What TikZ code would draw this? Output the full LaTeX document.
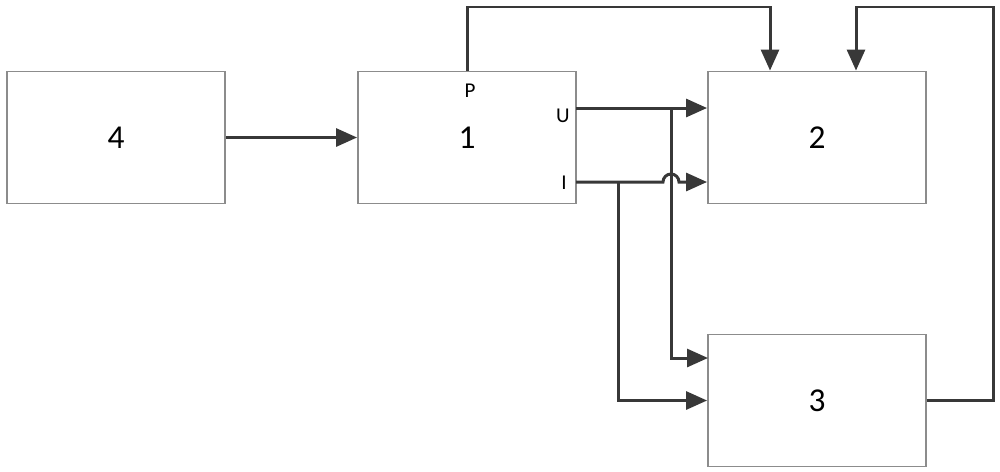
\documentclass[tikz,border=0pt]{standalone}
\usepackage{fontspec}
\setmainfont{Carlito}
\usetikzlibrary{arrows.meta}

\begin{document}
\begin{tikzpicture}[x=0.02cm,y=-0.02cm,
    blk/.style={draw=black!45,line width=1.1pt,minimum width=4.36cm,minimum height=2.64cm,inner sep=0pt,font=\fontsize{19}{19}\selectfont},
    arr/.style={draw=black!78,line width=1.7pt,-{Triangle[length=0.42cm,width=0.36cm]}},
    pin/.style={font=\fontsize{12}{12}\selectfont,inner sep=0pt}]
    \useasboundingbox (0,0) rectangle (1000,471);
    \node[blk] (b4) at (116,137.5) {4};
    \node[blk] (b1) at (467,137.5) {1};
    \node[blk] (b2) at (817,137.5) {2};
    \node[blk] (b3) at (817,400.5) {3};
    \node[pin] (lp) at (470,91) {P};
    \node[pin] (lu) at (563,116) {U};
    \node[pin] (li) at (564,183) {I};
    \coordinate (uout) at (576,108);
    \coordinate (iout) at (576,182);
    \coordinate (ubr) at (671,108);
    \coordinate (ibr) at (618,182);
    \coordinate (u3) at (708,358);
    \coordinate (ptop) at (770,7);
    \coordinate (fbr) at (993,7);
    \coordinate (fbl) at (856,7);
    \draw[arr] (b4.east) -- (b1.west);
    \draw[arr] (b1.north) |- (ptop) -- (ptop |- b2.north);
    \draw[arr] (b3.east) -| (fbr) -- (fbl) -- (fbl |- b2.north);
    \draw[arr] (uout) -- (uout -| b2.west);
    \draw[arr] (ubr) -- (ubr |- u3) -- (u3);
    % I line jumps over the U branch
    \draw[arr] (iout) -- (663,182) arc[start angle=180,end angle=0,radius=0.16cm] -- (iout -| b2.west);
    \draw[arr] (ibr) |- (b3.west);
\end{tikzpicture}
\end{document}
